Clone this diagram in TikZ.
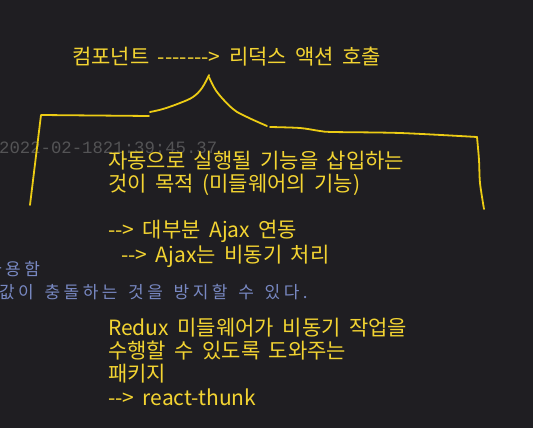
\documentclass[tikz,border=0pt]{standalone}
\usepackage{fontspec}
\newfontfamily\kofont[WordSpace=1.8]{Noto Sans CJK KR}
\newfontfamily\kowidefont[LetterSpace=20, WordSpace=1.5]{Noto Sans CJK KR}
\newfontfamily\stampfont{Liberation Mono}

\definecolor{bgdark}{RGB}{31,30,34}
\definecolor{memoyellow}{RGB}{243,212,50}
\definecolor{penyellow}{RGB}{236,204,20}
\definecolor{stampgray}{RGB}{84,84,86}
\definecolor{noteblue}{RGB}{120,136,194}

\tikzset{
  memo/.style={anchor=base west, inner sep=0pt, text=memoyellow,
    font=\fontsize{21}{24}\selectfont\kofont},
  note/.style={anchor=base west, inner sep=0pt, text=noteblue,
    font=\fontsize{17}{20}\selectfont\kowidefont},
  stamp/.style={anchor=base west, inner sep=0pt, text=stampgray,
    font=\fontsize{17.3}{20}\selectfont\stampfont},
  pen/.style={draw=penyellow, line width=1.8pt, line cap=round, line join=round}
}

\begin{document}
\begin{tikzpicture}[x=1pt, y=-1pt]

  % 배경
  \useasboundingbox (0,0) rectangle (533,428);
  \clip (0,0) rectangle (533,428);
  \fill[bgdark] (0,0) rectangle (533,428);

  % 뒤에 깔린 흐린 글자
  \node[stamp] (stamp) at (-1,153) {2022-02-1821:39:45.37};
  \node[note] (useline) at (-14,275) {사용함};
  \node[note] (clash) at (-1,298) {값이 충돌하는 것을 방지할 수 있다.};

  % 맨 위 문장
  \node[memo] (title) at (72,65) {컴포넌트 -------> 리덕스 액션 호출};

  % 손으로 그린 괄호
  \draw[pen] (30,205) -- (41,115) -- (149,116);
  \draw[pen] plot[smooth, tension=0.6] coordinates
    {(150,112) (163,109) (180,103) (193,97) (202,88) (209,75)};
  \draw[pen] plot[smooth, tension=0.6] coordinates
    {(209,77) (217,92) (233,109) (247,117) (267,126)};
  \draw[pen] plot[smooth, tension=0.5] coordinates
    {(270,127) (300,128) (320,131) (333,132) (400,133) (477,137)};
  \draw[pen] plot[smooth, tension=0.5] coordinates
    {(477,137) (479,160) (480,183) (484,209)};

  % 괄호 안 설명
  \node[memo] (purpose1) at (108,168) {자동으로 실행될 기능을 삽입하는};
  \node[memo] (purpose2) at (108,191) {것이 목적 (미들웨어의 기능)};
  \node[memo] (ajax1) at (108,237) {--> 대부분 Ajax 연동};
  \node[memo] (ajax2) at (121,262) {--> Ajax는 비동기 처리};

  % 아래 설명
  \node[memo] (thunk1) at (108,335) {Redux 미들웨어가 비동기 작업을};
  \node[memo] (thunk2) at (108,358) {수행할 수 있도록 도와주는};
  \node[memo] (thunk3) at (108,381) {패키지};
  \node[memo] (thunk4) at (108,405) {--> react-thunk};

\end{tikzpicture}
\end{document}
